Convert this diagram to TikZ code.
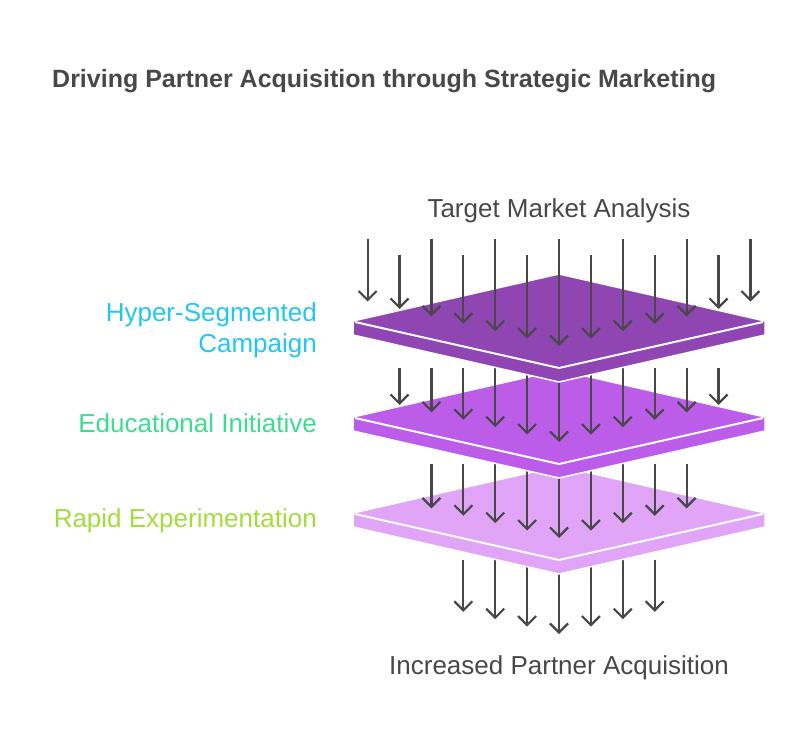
\documentclass[tikz,border=0pt]{standalone}
\usepackage{fontspec}
\setmainfont{Liberation Sans}
\usetikzlibrary{arrows.meta}

\definecolor{inkgray}{HTML}{484848}
\definecolor{layerA}{HTML}{8F46B3}
\definecolor{layerB}{HTML}{BC5DEA}
\definecolor{layerC}{HTML}{E0A5F7}
\definecolor{hypercyan}{HTML}{22C6F2}
\definecolor{edugreen}{HTML}{3DDC90}
\definecolor{rapidlime}{HTML}{A3DD3C}

\tikzset{
  flow/.style={draw=inkgray, line width=2.2pt, -{Straight Barb[length=9pt,width=18pt]}},
  caption/.style={inner sep=0pt, font=\fontsize{26}{31}\selectfont},
}

% one slab of the stack, centred at (559,#1)
\newcommand{\slab}[2]{%
  \fill[#2, draw=white, line width=1.5pt] (353,#1) -- (559,#1-47) -- (765,#1)
    -- (765,#1+14) -- (559,#1+61) -- (353,#1+14) -- cycle;
  \draw[white, line width=2pt] (355,#1+1) -- (559,#1+47) -- (763,#1+1);
}

\begin{document}
\begin{tikzpicture}[x=1pt,y=-1pt]
    \useasboundingbox (0,0) rectangle (800,752);
    \node[anchor=base west, inner sep=0pt, text=inkgray, font=\bfseries\fontsize{25}{30}\selectfont] (title) at (52,87) {Driving Partner Acquisition through Strategic Marketing};

    % arrows leaving the bottom slab
    \foreach \j in {-3,...,3}
        \draw[flow] ({559+31.9*\j},560) -- ({559+31.9*\j},{634-7.4*abs(\j)});
    \slab{513}{layerC}
    \foreach \j in {-4,...,4}
        \draw[flow] ({559+31.9*\j},464) -- ({559+31.9*\j},{538-7.4*abs(\j)});
    \slab{417}{layerB}
    \foreach \j in {-5,...,5}
        \draw[flow] ({559+31.9*\j},368) -- ({559+31.9*\j},{442-7.4*abs(\j)});
    \slab{321}{layerA}
    % incoming arrows on top
    \foreach \j in {-6,-4,...,6}
        \draw[flow] ({559+31.9*\j},239) -- ({559+31.9*\j},{346-7.4*abs(\j)});
    \foreach \j in {-5,-3,...,5}
        \draw[flow] ({559+31.9*\j},255) -- ({559+31.9*\j},{346-7.4*abs(\j)});

    \node[caption, anchor=base, text=inkgray] (target) at (559,217) {Target Market Analysis};
    \node[caption, anchor=base, text=inkgray] (increased) at (559,674) {Increased Partner Acquisition};
    \node[caption, anchor=base east, align=right, text=hypercyan] (hyper) at (317,352) {Hyper-Segmented\\Campaign};
    \node[caption, anchor=base east, text=edugreen] (edu) at (317,432) {Educational Initiative};
    \node[caption, anchor=base east, text=rapidlime] (rapid) at (317,527) {Rapid Experimentation};
\end{tikzpicture}
\end{document}
